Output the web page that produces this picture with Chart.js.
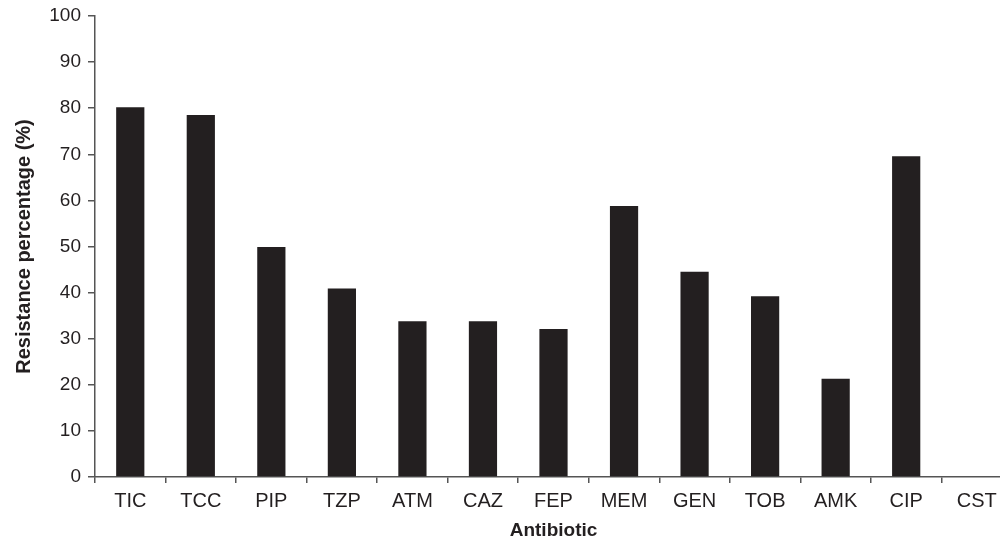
<!DOCTYPE html>
<html>
<head>
<meta charset="utf-8">
<script src="https://cdn.jsdelivr.net/npm/chart.js@4.4.0/dist/chart.umd.min.js"></script>
<style>
  html, body { margin: 0; padding: 0; background: #fff; overflow: hidden; }
  #wrap { width: 1012px; height: 542px; position: relative; }
</style>
</head>
<body>
<div id="wrap"><canvas id="chart"></canvas></div>
<script>
const antibiotics = ['TIC','TCC','PIP','TZP','ATM','CAZ','FEP','MEM','GEN','TOB','AMK','CIP','CST'];
const resistance = [80.2, 78.5, 49.9, 40.9, 33.8, 33.8, 32.1, 58.8, 44.5, 39.2, 21.3, 69.6, 0];
const yTicks = [0,10,20,30,40,50,60,70,80,90,100];

const ink = '#231f20';
Chart.defaults.font.family = '"Liberation Sans", Arial, Helvetica, sans-serif';
Chart.defaults.color = ink;

const ctx = document.querySelector('#chart').getContext('2d');
new Chart(ctx, {
    type: 'bar',
    data: {
        labels: antibiotics,
        datasets: [{
            label: 'Resistance',
            data: resistance,
            backgroundColor: ink,
            borderWidth: 0,
            categoryPercentage: 1,
            barPercentage: 0.4
        }]
    },
    options: {
        responsive: true,
        maintainAspectRatio: false,
        animation: false,
        layout: { padding: { top: 16, left: 0, right: 0, bottom: 0 } },
        plugins: { legend: { display: false }, tooltip: { enabled: false } },
        scales: {
            x: {
                grid: { offset: true, drawOnChartArea: false, tickLength: 6, color: '#555', lineWidth: 1.5 },
                border: { color: '#555', width: 1.5 },
                ticks: { font: { size: 20 }, padding: 6, maxRotation: 0 },
                title: { display: true, text: 'Antibiotic', font: { size: 19, weight: 'bold' }, padding: { top: 4, bottom: 0 } },
                afterFit: (s) => { s.height = 65; }
            },
            y: {
                min: 0,
                max: 100,
                afterBuildTicks: (s) => { s.ticks = yTicks.map(v => ({ value: v })); },
                grid: { drawOnChartArea: false, tickLength: 7, color: '#555', lineWidth: 1.5 },
                border: { color: '#555', width: 1.5 },
                ticks: { font: { size: 19 }, padding: 7 },
                title: { display: true, text: 'Resistance percentage (%)', font: { size: 20, weight: 'bold' }, padding: { top: 12 } },
                afterFit: (s) => { s.width = 95; s.paddingTop = 0; s.paddingBottom = 0; }
            }
        }
    }
});
</script>
</body>
</html>
